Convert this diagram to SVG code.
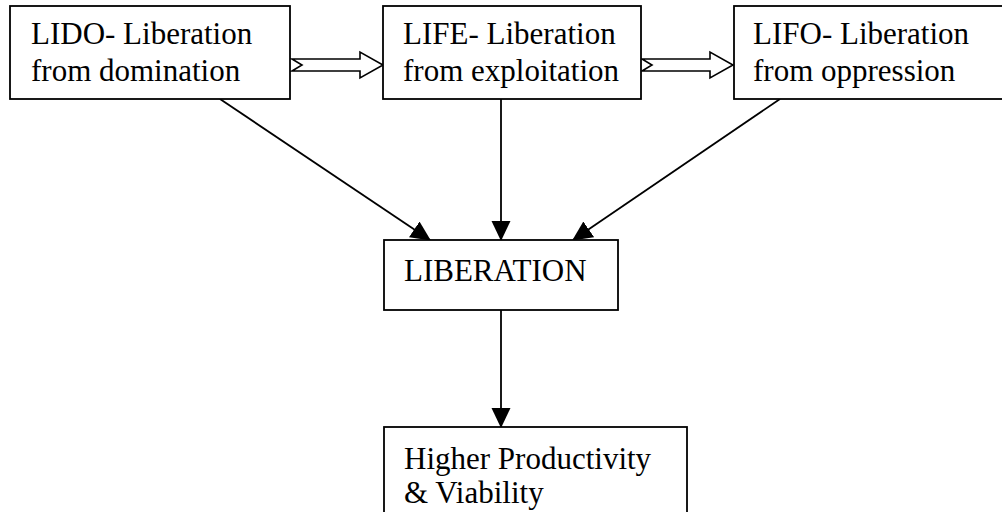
<svg xmlns="http://www.w3.org/2000/svg" width="1002" height="512" viewBox="0 0 1002 512">
  <style>
    .box { fill: #ffffff; stroke: #000000; stroke-width: 1.8; }
    .txt { font-family: "Liberation Serif", "Times New Roman", serif; font-size: 31px; fill: #000000; }
    .conn { stroke: #000000; stroke-width: 1.8; fill: none; }
    .block { fill: #ffffff; stroke: #000000; stroke-width: 1.6; stroke-linejoin: miter; }
  </style>
  <defs>
    <marker id="ah" viewBox="0 0 20 20" refX="19" refY="10" markerWidth="20" markerHeight="20" markerUnits="userSpaceOnUse" orient="auto">
      <path d="M0,0.5 L20,10 L0,19.5 z" fill="#000000"/>
    </marker>
  </defs>
  <rect width="1002" height="512" fill="#ffffff"/>

  <g id="connectors">
    <polygon class="block" points="292,59 360,59 360,52 383,65 360,78 360,71 292,71 302,65"/>
    <polygon class="block" points="642,59 710,59 710,52 733,65 710,78 710,71 642,71 652,65"/>
    <line class="conn" x1="220" y1="99" x2="430" y2="240" marker-end="url(#ah)"/>
    <line class="conn" x1="501" y1="99" x2="501" y2="240" marker-end="url(#ah)"/>
    <line class="conn" x1="780" y1="99" x2="573" y2="240" marker-end="url(#ah)"/>
    <line class="conn" x1="501" y1="310" x2="501" y2="427" marker-end="url(#ah)"/>
  </g>

  <g id="lido">
    <rect class="box" x="10" y="6" width="280" height="93"/>
    <text class="txt" x="31" y="44">LIDO- Liberation</text>
    <text class="txt" x="31" y="81">from domination</text>
  </g>
  <g id="life">
    <rect class="box" x="383" y="6" width="258" height="93"/>
    <text class="txt" x="403" y="44">LIFE- Liberation</text>
    <text class="txt" x="403" y="81">from exploitation</text>
  </g>
  <g id="lifo">
    <rect class="box" x="734" y="6" width="275" height="93"/>
    <text class="txt" x="753" y="44">LIFO- Liberation</text>
    <text class="txt" x="753" y="81">from oppression</text>
  </g>
  <g id="liberation">
    <rect class="box" x="384" y="240" width="234" height="70"/>
    <text class="txt" x="404" y="281">LIBERATION</text>
  </g>
  <g id="higher">
    <rect class="box" x="384" y="427" width="303" height="95"/>
    <text class="txt" x="404" y="469">Higher Productivity</text>
    <text class="txt" x="404" y="503">&amp; Viability</text>
  </g>
</svg>
